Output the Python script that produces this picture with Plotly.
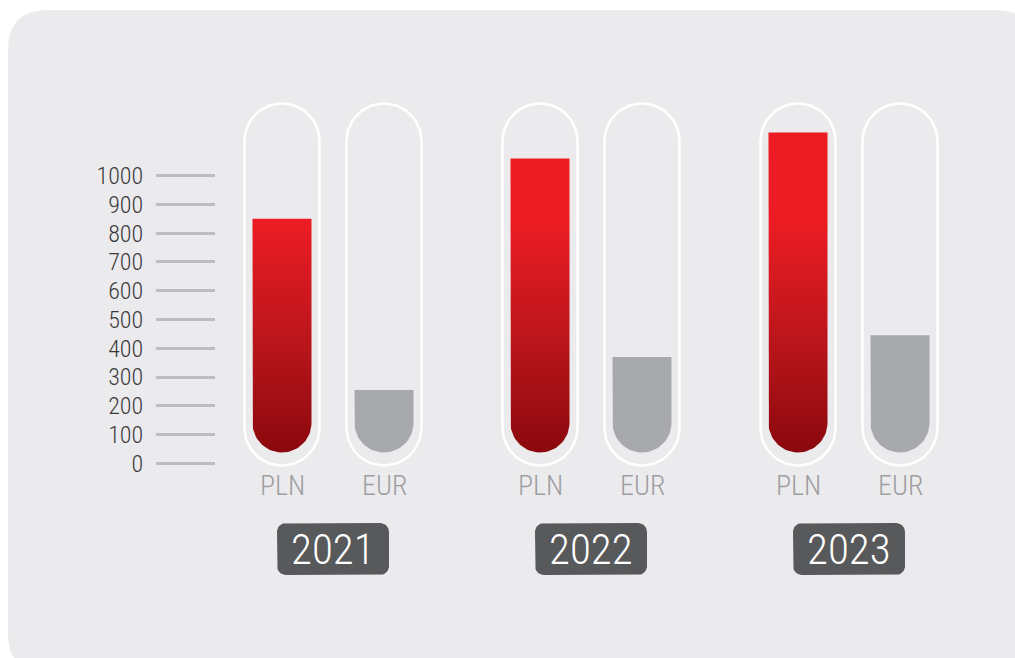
import numpy as np
import plotly.graph_objects as go

# ---------------- data ----------------
years = ["2021", "2022", "2023"]
currencies = ["PLN", "EUR"]
pln_values = [850, 1060, 1150]
eur_values = [255, 370, 445]
tick_values = [0, 100, 200, 300, 400, 500, 600, 700, 800, 900, 1000]
tick_labels = ["0", "100", "200", "300", "400", "500", "600", "700", "800", "900", "1000"]

# ---------------- layout constants ----------------
W, H = 1015, 658
X0_PX = 333.0          # pixel of group 0 centre
SX = 258.0             # pixels per group
Y0_PX = 463.3          # pixel of value 0
SY = 0.2876            # pixels per unit
FONT = "Roboto Condensed, Liberation Sans Narrow, DejaVu Sans Condensed, sans-serif"

xr = [(0 - X0_PX) / SX, (W - X0_PX) / SX]
yr = [(Y0_PX - H) / SY, Y0_PX / SY]


def dx(px):
    return px / SX


def dy(px):
    return px / SY


def yv(py):  # pixel row -> data value
    return (Y0_PX - py) / SY


OFFSET = dx(51)        # half distance between the two tubes of a group
BAR_R = 29.5           # px, bar half width / bottom radius
BAR_BOTTOM = yv(452.5)
TUBE_R = 37.5
TUBE_TOP = yv(103.5)
TUBE_BOT = yv(465.5)

fig = go.Figure()


def bar_path(xc, top):
    yc = BAR_BOTTOM + dy(BAR_R)
    t = np.linspace(np.pi, 2 * np.pi, 40)
    xs = [xc - dx(BAR_R)] + list(xc + dx(BAR_R) * np.cos(t)) + [xc + dx(BAR_R), xc - dx(BAR_R)]
    ys = [top] + list(yc + dy(BAR_R) * np.sin(t)) + [top, top]
    return xs, ys


def tube_path(xc):
    yt = TUBE_TOP - dy(TUBE_R)
    yb = TUBE_BOT + dy(TUBE_R)
    t1 = np.linspace(0, np.pi, 40)
    t2 = np.linspace(np.pi, 2 * np.pi, 40)
    xs = list(xc + dx(TUBE_R) * np.cos(t1)) + list(xc + dx(TUBE_R) * np.cos(t2))
    ys = list(yt + dy(TUBE_R) * np.sin(t1)) + list(yb + dy(TUBE_R) * np.sin(t2))
    xs.append(xs[0])
    ys.append(ys[0])
    return xs, ys


def rounded_rect(xc, yc_px, w_px, h_px, r_px):
    pts = []
    cx = [w_px / 2 - r_px, -(w_px / 2 - r_px), -(w_px / 2 - r_px), w_px / 2 - r_px]
    cy = [h_px / 2 - r_px, h_px / 2 - r_px, -(h_px / 2 - r_px), -(h_px / 2 - r_px)]
    for k in range(4):
        t = np.linspace(k * np.pi / 2, (k + 1) * np.pi / 2, 10)
        for a in t:
            pts.append((cx[k] + r_px * np.cos(a), cy[k] + r_px * np.sin(a)))
    pts.append(pts[0])
    xs = [xc + dx(p[0]) for p in pts]
    ys = [yv(yc_px) + dy(p[1]) for p in pts]
    return xs, ys


for i, yr_lbl in enumerate(years):
    for j, (cur, vals) in enumerate(zip(currencies, [pln_values, eur_values])):
        xc = i + (-OFFSET if j == 0 else OFFSET)
        # tube
        tx, ty = tube_path(xc)
        fig.add_trace(go.Scatter(x=tx, y=ty, mode="lines",
                                 line=dict(color="white", width=2.5),
                                 hoverinfo="skip", showlegend=False))
        # bar
        bx, by = bar_path(xc, vals[i])
        if cur == "PLN":
            fig.add_trace(go.Scatter(
                x=bx, y=by, mode="lines", fill="toself", line=dict(width=0),
                fillgradient=dict(type="vertical",
                                  colorscale=[[0, "#8a080d"], [0.45, "#b8151b"], [1, "#ed1c24"]],
                                  start=BAR_BOTTOM, stop=850),
                name=f"{cur} {yr_lbl}", showlegend=False))
        else:
            fig.add_trace(go.Scatter(
                x=bx, y=by, mode="lines", fill="toself", line=dict(width=0),
                fillcolor="#a8a9ac", name=f"{cur} {yr_lbl}", showlegend=False))
        fig.add_annotation(x=xc, y=yv(485), text=cur, showarrow=False,
                           font=dict(family=FONT, size=28, color="#9d9ea1", weight=300),
                           xanchor="center", yanchor="middle")
    # year box
    rx, ry = rounded_rect(i, 549, 112, 52, 9)
    fig.add_trace(go.Scatter(x=rx, y=ry, mode="lines", fill="toself",
                             fillcolor="#58595b", line=dict(width=0),
                             hoverinfo="skip", showlegend=False))
    fig.add_annotation(x=i, y=yv(549), text=yr_lbl, showarrow=False,
                       font=dict(family=FONT, size=43, color="white", weight=300),
                       xanchor="center", yanchor="middle")

# background rounded panel (paper coordinates)
def P(x, y):
    return f"{x / W:.5f},{1 - y / H:.5f}"


bg_path = ("M " + P(8, 673 - 40) + " L " + P(8, 50) + " Q " + P(8, 10) + " " + P(48, 10) +
           " L " + P(995, 10) + " Q " + P(1035, 10) + " " + P(1035, 50) +
           " L " + P(1035, 633) + " Q " + P(1035, 673) + " " + P(995, 673) +
           " L " + P(48, 673) + " Q " + P(8, 673) + " " + P(8, 633) + " Z")
fig.add_shape(type="path", path=bg_path, xref="paper", yref="paper",
              fillcolor="#ebebed", line=dict(width=0), layer="below")

fig.update_layout(
    width=W, height=H,
    margin=dict(l=0, r=0, t=0, b=0),
    paper_bgcolor="white",
    plot_bgcolor="rgba(0,0,0,0)",
    xaxis=dict(range=xr, visible=False, domain=[0, 1], fixedrange=True),
    yaxis=dict(range=yr, anchor="free", position=215 / W, side="left",
               tickmode="array", tickvals=tick_values, ticktext=tick_labels,
               ticks="outside", ticklen=59, tickwidth=3, tickcolor="#bcbdc0",
               showline=False, showgrid=False, zeroline=False,
               ticklabelstandoff=8,
               tickfont=dict(family=FONT, size=24, color="#3a3a3c", weight=300),
               fixedrange=True),
    showlegend=False,
)

fig.write_html("out.html")
